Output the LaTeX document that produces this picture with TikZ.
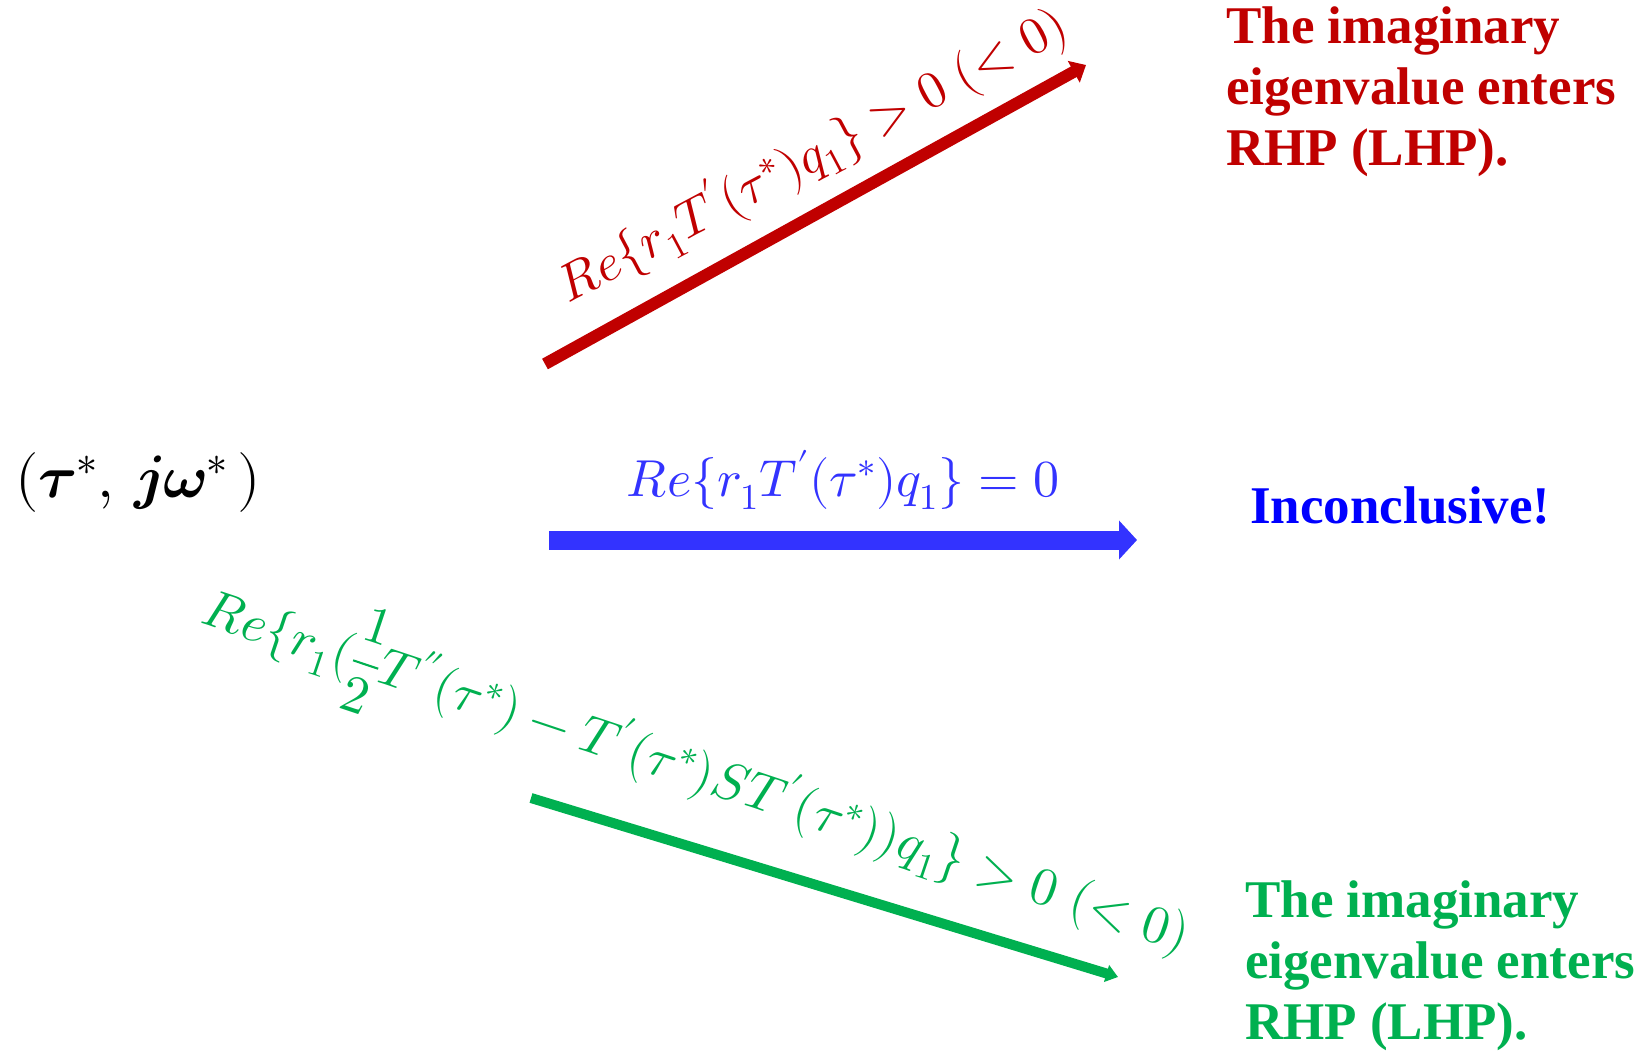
\documentclass[tikz,border=0pt]{standalone}
\usepackage{amsmath,amssymb}
\usepackage{fontspec}
\usepackage{unicode-math}
\setmainfont{Liberation Serif}
\setmathfont{Latin Modern Math}
\usetikzlibrary{arrows.meta}
\definecolor{Crimson}{HTML}{C00000}
\definecolor{Royal}{HTML}{3333FF}
\definecolor{PureBlue}{HTML}{0000FF}
\definecolor{Leaf}{HTML}{00B050}

\begin{document}
\begin{tikzpicture}[x=1pt,y=-1pt,
    verdict/.style={anchor=north west,align=left,inner sep=0pt,
                    font=\fontsize{53}{61}\selectfont\bfseries},
    cond/.style={inner sep=0pt,font=\fontsize{52}{60}\selectfont}]
      \useasboundingbox (0,0) rectangle (1650,1052);
      \node[anchor=west,inner sep=0pt,font=\fontsize{60}{70}\selectfont] (point) at (15,482)
        {$(\symbfit{\tau}^{*},\,\symbfit{j\omega}^{*}\,)$};

      \coordinate (upstart) at (545,364);
      \coordinate (uptip) at (1086,65);
      \coordinate (flatstart) at (549,540);
      \coordinate (flattip) at (1137,540);
      \coordinate (downstart) at (531,798);
      \coordinate (downtip) at (1118,977);

      \draw[Crimson,line width=12pt,-{Triangle[length=14pt,width=24pt]}] (upstart) -- (uptip);
      \draw[Royal,line width=19pt,-{Triangle[length=18pt,width=38pt]}] (flatstart) -- (flattip);
      \draw[Leaf,line width=10pt,-{Triangle[length=12pt,width=17pt]}] (downstart) -- (downtip);

      \node[cond,text=Crimson,rotate=28] (upcond) at (812,155)
        {$Re\{r_1T'(\tau^{*})q_1\} > 0\;(<0)$};
      \node[cond,text=Royal] (flatcond) at (843,480)
        {$Re\{r_1T'(\tau^{*})q_1\} = 0$};
      \node[cond,text=Leaf,rotate=-18.5,font=\fontsize{53}{60}\selectfont] (downcond) at (697,771)
        {$Re\{r_1(\dfrac{1}{2}T''(\tau^{*})-T'(\tau^{*})ST'(\tau^{*}))q_1\} > 0\;(<0)$};

      \node[verdict,text=Crimson] (upverdict) at (1226,7)
        {The imaginary\\eigenvalue enters\\RHP (LHP).};
      \node[verdict,text=PureBlue,anchor=west] (flatverdict) at (1250,505)
        {Inconclusive!};
      \node[verdict,text=Leaf] (downverdict) at (1245,881)
        {The imaginary\\eigenvalue enters\\RHP (LHP).};
    \end{tikzpicture}
\end{document}
